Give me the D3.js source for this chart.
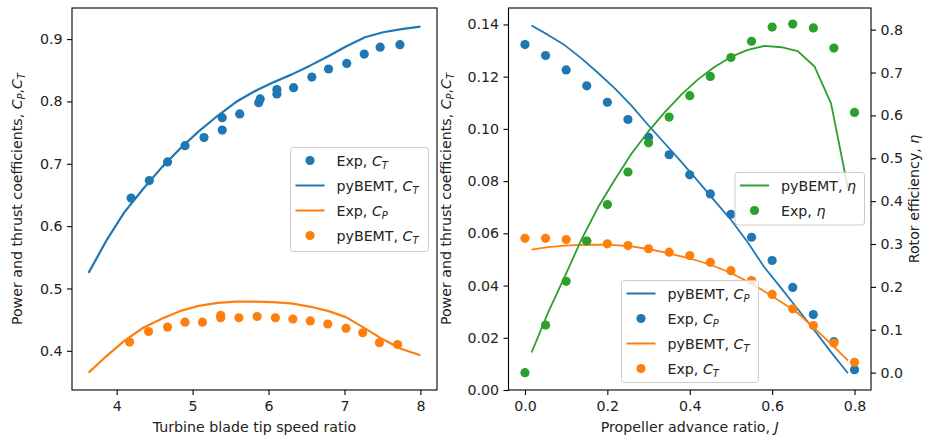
<!DOCTYPE html>
<html>
<head>
<meta charset="utf-8">
<script src="https://cdn.jsdelivr.net/npm/d3@7"></script>
<style>
  body { margin: 0; background: #fff; }
  text { font-family: "DejaVu Sans", sans-serif; }
</style>
</head>
<body>
<svg id="chart" width="932" height="440"></svg>
<script>
// ---- left panel: turbine ----
const tsr = [3.63, 3.87, 4.1, 4.35, 4.6, 4.84, 5.08, 5.33, 5.57, 5.81, 6.05, 6.3, 6.54, 6.78, 7.02, 7.27, 7.51, 7.75, 8.0];
const tsrModelCT = [0.525, 0.578, 0.622, 0.66, 0.695, 0.725, 0.752, 0.777, 0.799, 0.816, 0.83, 0.843, 0.857, 0.872, 0.888, 0.903, 0.911, 0.916, 0.92];
const tsrModelCP = [0.365, 0.392, 0.416, 0.437, 0.452, 0.464, 0.472, 0.477, 0.479, 0.479, 0.478, 0.476, 0.471, 0.464, 0.454, 0.436, 0.418, 0.403, 0.393];

const tsrExpCTx = [4.19, 4.43, 4.67, 4.9, 5.15, 5.39, 5.39, 5.62, 5.87, 5.89, 6.11, 6.11, 6.33, 6.57, 6.79, 7.03, 7.26, 7.47, 7.73];
const tsrExpCT = [0.645, 0.673, 0.703, 0.729, 0.742, 0.774, 0.754, 0.78, 0.798, 0.804, 0.819, 0.812, 0.822, 0.839, 0.852, 0.861, 0.876, 0.887, 0.891];
const tsrExpCPx = [4.17, 4.42, 4.67, 4.9, 5.13, 5.37, 5.37, 5.61, 5.85, 6.09, 6.32, 6.55, 6.78, 7.02, 7.24, 7.46, 7.7];
const tsrExpCP = [0.414, 0.431, 0.438, 0.446, 0.446, 0.457, 0.453, 0.453, 0.455, 0.453, 0.451, 0.448, 0.443, 0.436, 0.429, 0.413, 0.41];

const tsrTicks = [4, 5, 6, 7, 8];
const tsrYTicks = [0.4, 0.5, 0.6, 0.7, 0.8, 0.9];

// ---- right panel: propeller ----
const jModel = [0.016, 0.056, 0.097, 0.137, 0.177, 0.218, 0.258, 0.299, 0.339, 0.379, 0.42, 0.46, 0.501, 0.541, 0.581, 0.622, 0.662, 0.703, 0.743, 0.784];
const jModelCP = [0.1396, 0.136, 0.132, 0.127, 0.1215, 0.1155, 0.109, 0.1015, 0.0945, 0.0875, 0.08, 0.0725, 0.065, 0.0565, 0.047, 0.039, 0.031, 0.0228, 0.0145, 0.0064];
const jModelCT = [0.0538, 0.0547, 0.0553, 0.0556, 0.0557, 0.0555, 0.055, 0.054, 0.0527, 0.0512, 0.0495, 0.0474, 0.0447, 0.0415, 0.0378, 0.0337, 0.0295, 0.0236, 0.0177, 0.0113];
const jModelEta = [0.047, 0.14, 0.225, 0.31, 0.385, 0.45, 0.51, 0.562, 0.607, 0.648, 0.684, 0.713, 0.737, 0.753, 0.762, 0.759, 0.75, 0.714, 0.628, 0.43];

const jExp = [0, 0.05, 0.1, 0.15, 0.2, 0.25, 0.3, 0.35, 0.4, 0.45, 0.5, 0.55, 0.6, 0.65, 0.7, 0.75, 0.8];
const jExpCP = [0.1323, 0.1281, 0.1226, 0.1165, 0.1102, 0.1036, 0.0968, 0.0901, 0.0824, 0.0751, 0.0673, 0.0585, 0.0496, 0.0393, 0.0289, 0.0185, 0.0078];
const jExpCT = [0.0581, 0.0581, 0.0576, 0.057, 0.056, 0.0553, 0.0541, 0.0528, 0.0515, 0.0489, 0.0457, 0.0419, 0.0366, 0.0311, 0.0247, 0.018, 0.0106];
const jExpEta = [0.0, 0.111, 0.213, 0.307, 0.392, 0.468, 0.536, 0.596, 0.646, 0.691, 0.735, 0.773, 0.806, 0.813, 0.804, 0.757, 0.607];

const jTicks = [0, 0.2, 0.4, 0.6, 0.8];
const coefTicks = [0, 0.02, 0.04, 0.06, 0.08, 0.1, 0.12, 0.14];
const etaTicks = [0, 0.1, 0.2, 0.3, 0.4, 0.5, 0.6, 0.7, 0.8];

const C0 = "#1f77b4", C1 = "#ff7f0e", C2 = "#2ca02c";
const FS = 14.2;
const plotTop = 8, plotBottom = 390;

const svg = d3.select("#chart");

// text with mathtext-like pieces: [str] plain, [str,"i"] italic, [str,"sub"] italic subscript
function richText(t, parts) {
  let shifted = false;
  parts.forEach(p => {
    const ts = t.append("tspan").text(p[0]);
    if (p[1] === "i") ts.attr("font-style", "italic");
    if (p[1] === "sub") {
      ts.attr("font-style", "italic").attr("font-size", FS * 0.7).attr("dy", 3);
      shifted = true;
    } else if (shifted) {
      ts.attr("dy", -3);
      shifted = false;
    }
  });
  return t;
}

function styleAxis(g) {
  g.select(".domain").remove();
  g.selectAll(".tick line").attr("stroke", "#000").attr("stroke-width", 1.1);
  g.selectAll(".tick text").attr("font-size", FS).attr("fill", "#222")
    .attr("font-family", "DejaVu Sans, sans-serif");
}

function withMargin(lo, hi) {
  const m = (hi - lo) * 0.05;
  return [lo - m, hi + m];
}

function drawLine(g, xs, ys, x, y, color, w) {
  g.append("path")
    .datum(xs.map((d, i) => [d, ys[i]]))
    .attr("fill", "none").attr("stroke", color).attr("stroke-width", w)
    .attr("stroke-linejoin", "round")
    .attr("d", d3.line().x(d => x(d[0])).y(d => y(d[1])));
}

function drawDots(g, xs, ys, x, y, color) {
  g.append("g").selectAll("circle")
    .data(xs.map((d, i) => [d, ys[i]]))
    .join("circle")
    .attr("cx", d => x(d[0])).attr("cy", d => y(d[1]))
    .attr("r", 4.6).attr("fill", color);
}

function legend(g, x0, y0, w, h, entries) {
  const lg = g.append("g").attr("transform", `translate(${x0},${y0})`);
  lg.append("rect").attr("width", w).attr("height", h).attr("rx", 3)
    .attr("fill", "#fff").attr("fill-opacity", 0.8)
    .attr("stroke", "#ccc").attr("stroke-width", 1);
  entries.forEach((e, i) => {
    const cy = 13 + i * 25;
    if (e.kind === "line") {
      lg.append("line").attr("x1", 5).attr("x2", 34).attr("y1", cy).attr("y2", cy)
        .attr("stroke", e.color).attr("stroke-width", 2);
    } else {
      lg.append("circle").attr("cx", 19.5).attr("cy", cy).attr("r", 4.6).attr("fill", e.color);
    }
    richText(lg.append("text").attr("x", 46).attr("y", cy + 5).attr("font-size", FS).attr("fill", "#222"), e.label);
  });
}

function frame(x0, x1) {
  svg.append("rect").attr("x", x0).attr("y", plotTop).attr("width", x1 - x0).attr("height", plotBottom - plotTop)
    .attr("fill", "none").attr("stroke", "#000").attr("stroke-width", 1.1);
}

function yLabel(x, parts) {
  richText(svg.append("text")
    .attr("transform", `translate(${x},${(plotTop + plotBottom) / 2}) rotate(-90)`)
    .attr("text-anchor", "middle").attr("font-size", FS).attr("fill", "#222"), parts);
}

function xLabel(x, parts) {
  richText(svg.append("text").attr("x", x).attr("y", 432)
    .attr("text-anchor", "middle").attr("font-size", FS).attr("fill", "#222"), parts);
}

const coefLabel = [["Power and thrust coefficients, "], ["C", "i"], ["P", "sub"], [","], ["C", "i"], ["T", "sub"]];

// ===== left panel =====
{
  const L = 72, R = 437;
  const x = d3.scaleLinear().domain(withMargin(3.63, 8.0)).range([L, R]);
  const y = d3.scaleLinear().domain(withMargin(0.365, 0.922)).range([plotBottom, plotTop]);
  const g = svg.append("g");

  drawDots(g, tsrExpCTx, tsrExpCT, x, y, C0);
  drawLine(g, tsr, tsrModelCT, x, y, C0, 2.2);
  drawLine(g, tsr, tsrModelCP, x, y, C1, 2.2);
  drawDots(g, tsrExpCPx, tsrExpCP, x, y, C1);

  svg.append("g").attr("transform", `translate(0,${plotBottom})`)
    .call(d3.axisBottom(x).tickValues(tsrTicks).tickSize(5).tickPadding(6).tickFormat(d3.format("d")))
    .call(styleAxis);
  svg.append("g").attr("transform", `translate(${L},0)`)
    .call(d3.axisLeft(y).tickValues(tsrYTicks).tickSize(5).tickPadding(4.5).tickFormat(d3.format(".1f")))
    .call(styleAxis);
  frame(L, R);

  legend(svg, 290.5, 147.5, 138, 104, [
    { kind: "dot", color: C0, label: [["Exp, "], ["C", "i"], ["T", "sub"]] },
    { kind: "line", color: C0, label: [["pyBEMT, "], ["C", "i"], ["T", "sub"]] },
    { kind: "line", color: C1, label: [["Exp, "], ["C", "i"], ["P", "sub"]] },
    { kind: "dot", color: C1, label: [["pyBEMT, "], ["C", "i"], ["T", "sub"]] }
  ]);

  yLabel(22, coefLabel);
  xLabel((L + R) / 2, [["Turbine blade tip speed ratio"]]);
}

// ===== right panel =====
{
  const L = 508.5, R = 871;
  const x = d3.scaleLinear().domain(withMargin(0, 0.8)).range([L, R]);
  const y = d3.scaleLinear().domain([0, 0.1463]).range([plotBottom, plotTop]);
  const y2 = d3.scaleLinear().domain(withMargin(0, 0.81)).range([plotBottom, plotTop]);
  const g = svg.append("g");

  drawLine(g, jModel, jModelCP, x, y, C0, 1.8);
  drawDots(g, jExp, jExpCP, x, y, C0);
  drawLine(g, jModel, jModelCT, x, y, C1, 1.8);
  drawDots(g, jExp, jExpCT, x, y, C1);

  legend(svg, 621.5, 280.5, 137, 102, [
    { kind: "line", color: C0, label: [["pyBEMT, "], ["C", "i"], ["P", "sub"]] },
    { kind: "dot", color: C0, label: [["Exp, "], ["C", "i"], ["P", "sub"]] },
    { kind: "line", color: C1, label: [["pyBEMT, "], ["C", "i"], ["T", "sub"]] },
    { kind: "dot", color: C1, label: [["Exp, "], ["C", "i"], ["T", "sub"]] }
  ]);

  const g2 = svg.append("g");
  drawLine(g2, jModel, jModelEta, x, y2, C2, 1.8);
  drawDots(g2, jExp, jExpEta, x, y2, C2);

  svg.append("g").attr("transform", `translate(0,${plotBottom})`)
    .call(d3.axisBottom(x).tickValues(jTicks).tickSize(5).tickPadding(6).tickFormat(d3.format(".1f")))
    .call(styleAxis);
  svg.append("g").attr("transform", `translate(${L},0)`)
    .call(d3.axisLeft(y).tickValues(coefTicks).tickSize(5).tickPadding(4.5).tickFormat(d3.format(".2f")))
    .call(styleAxis);
  svg.append("g").attr("transform", `translate(${R},0)`)
    .call(d3.axisRight(y2).tickValues(etaTicks).tickSize(5).tickPadding(4.5).tickFormat(d3.format(".1f")))
    .call(styleAxis);
  frame(L, R);

  legend(svg, 735, 172.5, 129.5, 52.5, [
    { kind: "line", color: C2, label: [["pyBEMT, "], ["η", "i"]] },
    { kind: "dot", color: C2, label: [["Exp, "], ["η", "i"]] }
  ]);

  yLabel(451, coefLabel);
  yLabel(919, [["Rotor efficiency, "], ["η", "i"]]);
  xLabel((L + R) / 2, [["Propeller advance ratio, "], ["J", "i"]]);
}
</script>
</body>
</html>
